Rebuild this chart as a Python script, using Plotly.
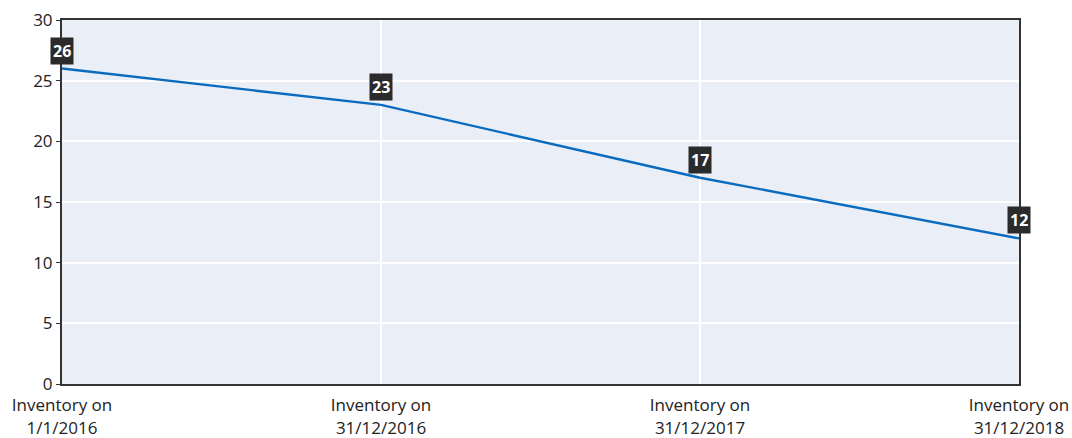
import plotly.graph_objects as go

categories = ["Inventory on<br>1/1/2016", "Inventory on<br>31/12/2016",
              "Inventory on<br>31/12/2017", "Inventory on<br>31/12/2018"]
values = [26, 23, 17, 12]
y_ticks = [0, 5, 10, 15, 20, 25, 30]

xs = list(range(len(categories)))
FONT = "Open Sans, Noto Sans, sans-serif"

fig = go.Figure()
fig.add_trace(go.Scatter(x=xs, y=values, mode="lines",
                         line=dict(color="#0A6BBE", width=2.4),
                         hoverinfo="skip", showlegend=False))

for x, v in zip(xs, values):
    fig.add_annotation(x=x, y=v, xref="x", yref="y", text="<b>%d</b>" % v,
                       showarrow=False, yshift=18,
                       font=dict(family=FONT, size=16, color="white"),
                       bgcolor="#2B2B2B", borderpad=2)

fig.update_layout(
    width=1072, height=438,
    margin=dict(l=62, r=53, t=20, b=54),
    paper_bgcolor="white", plot_bgcolor="#E9EEF7",
    font=dict(family=FONT, size=16, color="#222222"),
)
fig.update_xaxes(range=[0, 3], tickvals=xs, ticktext=categories,
                 showgrid=True, gridcolor="white", gridwidth=2,
                 showline=True, mirror=True, linecolor="#333333", linewidth=2,
                 ticks="", zeroline=False, tickfont=dict(size=17),
                 automargin=False, ticklabelstandoff=5)
fig.update_yaxes(range=[0, 30], tickvals=y_ticks,
                 showgrid=True, gridcolor="white", gridwidth=2,
                 showline=True, mirror=True, linecolor="#333333", linewidth=2,
                 ticks="outside", ticklen=4, tickcolor="#333333",
                 zeroline=False, tickfont=dict(size=17), automargin=False)

fig.write_html("out.html", config={"displayModeBar": False},
               post_script="document.body.style.margin='0';document.body.style.padding='0';")
